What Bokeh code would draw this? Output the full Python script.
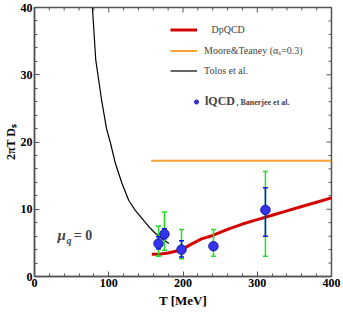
import math
from bokeh.plotting import figure
from bokeh.models import (FixedTicker, Legend, LegendItem, Label, Range1d)
from bokeh.embed import file_html
from bokeh.resources import INLINE

# ---------------- data ----------------
x_major = [0, 100, 200, 300, 400]
x_minor = [20, 40, 60, 80, 120, 140, 160, 180, 220, 240, 260, 280, 320, 340, 360, 380]
y_major = [0, 10, 20, 30, 40]
y_minor = [2, 4, 6, 8, 12, 14, 16, 18, 22, 24, 26, 28, 32, 34, 36, 38]

tolos_T = [78, 82.5, 90, 97, 102, 109, 118, 127, 136, 145, 154, 163, 172, 181]
tolos_D = [40, 32.2, 26.5, 22.0, 20.0, 16.8, 13.8, 11.3, 9.8, 8.6, 7.4, 6.4, 5.6, 4.9]

dpqcd_T = [158, 170, 180, 190, 200, 212, 225, 240, 260, 280, 300, 320, 340, 360, 380, 400]
dpqcd_D = [3.3, 3.35, 3.5, 3.75, 4.1, 4.85, 5.6, 6.1, 7.0, 7.8, 8.45, 9.1, 9.75, 10.4, 11.05, 11.7]

moore_T = [157, 400]
moore_D = [17.2, 17.2]

lqcd_T = [167, 175, 198, 241, 311]
lqcd_D = [4.9, 6.3, 4.0, 4.5, 9.9]
green_lo = [3.0, 3.9, 2.65, 3.0, 3.0]
green_hi = [7.5, 9.6, 7.0, 7.0, 15.6]
blue_lo = [4.1, 5.6, 2.9, 4.2, 6.0]
blue_hi = [5.9, 7.1, 5.3, 4.8, 13.2]

SERIF = "Liberation Serif"
AX = "#555555"
X_MAX = x_major[-1]
Y_MAX = y_major[-1]

p = figure(width=343, height=314, output_backend="svg", toolbar_location=None,
           x_range=Range1d(x_major[0], X_MAX), y_range=Range1d(y_major[0], Y_MAX),
           min_border_left=0, min_border_right=12, min_border_top=7, min_border_bottom=38,
           background_fill_color="white", border_fill_color="white")
p.outline_line_color = AX
p.outline_line_width = 1.5
p.xgrid.visible = False
p.ygrid.visible = False

for ax in (p.xaxis[0], p.yaxis[0]):
    ax.axis_line_color = AX
    ax.axis_line_width = 1.5
    ax.major_tick_line_color = AX
    ax.minor_tick_line_color = AX
    ax.major_tick_in = 5
    ax.major_tick_out = 0
    ax.minor_tick_in = 3
    ax.minor_tick_out = 0
    ax.major_label_text_font = SERIF
    ax.major_label_text_font_style = "bold"
    ax.major_label_text_font_size = "12px"
    ax.major_label_text_color = "black"
    ax.major_label_standoff = 2
    ax.axis_label_text_font = SERIF
    ax.axis_label_text_font_style = "bold"
    ax.axis_label_text_color = "black"
    ax.axis_label_standoff = 0

p.xaxis.ticker = FixedTicker(ticks=x_major, minor_ticks=x_minor)
p.yaxis.ticker = FixedTicker(ticks=y_major, minor_ticks=y_minor)
p.xaxis.axis_label = "T [MeV]"
p.xaxis.axis_label_text_font_size = "13px"
p.xaxis.axis_label_standoff = 3
p.yaxis.axis_label = "2πT Dₛ"
p.yaxis.axis_label_text_font_size = "12px"

# inward ticks on the right and top frame edges (half of each dash is clipped by the frame)
p.scatter([X_MAX] * len(y_major), y_major, marker="dash", size=10, line_color=AX, line_width=1)
p.scatter([X_MAX] * len(y_minor), y_minor, marker="dash", size=6, line_color=AX, line_width=1)
p.scatter(x_major, [Y_MAX] * len(x_major), marker="dash", angle=math.pi / 2, size=10,
          line_color=AX, line_width=1)
p.scatter(x_minor, [Y_MAX] * len(x_minor), marker="dash", angle=math.pi / 2, size=6,
          line_color=AX, line_width=1)

# ---------------- curves ----------------
r_dp = p.line(dpqcd_T, dpqcd_D, line_color="#d40000", line_width=3)
r_mt = p.line(moore_T, moore_D, line_color="#f7a437", line_width=2)
r_to = p.line(tolos_T, tolos_D, line_color="black", line_width=1.2)

# ---------------- lattice points ----------------
p.segment(lqcd_T, green_lo, lqcd_T, green_hi, line_color="#22e022", line_width=1.5)
p.scatter(lqcd_T, green_lo, marker="dash", size=5, line_color="#22e022", line_width=1.5)
p.scatter(lqcd_T, green_hi, marker="dash", size=5, line_color="#22e022", line_width=1.5)
p.segment(lqcd_T, blue_lo, lqcd_T, blue_hi, line_color="#0a14f0", line_width=1.5)
p.scatter(lqcd_T, blue_lo, marker="dash", size=5, line_color="#0a14f0", line_width=1.5)
p.scatter(lqcd_T, blue_hi, marker="dash", size=5, line_color="#0a14f0", line_width=1.5)
r_lq = p.scatter(lqcd_T, lqcd_D, marker="circle", size=9.5, fill_color="#3434ec",
                 line_color="#1c1ca8", line_width=1)

# ---------------- legends ----------------
leg1 = Legend(items=[LegendItem(label="   DpQCD", renderers=[r_dp]),
                     LegendItem(label="Moore&Teaney (αₛ=0.3)", renderers=[r_mt]),
                     LegendItem(label="Tolos et al.", renderers=[r_to])],
              location=(136, 199), orientation="vertical",
              glyph_width=27, glyph_height=13, label_height=13, spacing=7,
              label_standoff=7, padding=0, margin=0,
              border_line_color=None, background_fill_alpha=0,
              label_text_font=SERIF, label_text_font_size="10px")
p.add_layout(leg1)

leg2 = Legend(items=[LegendItem(label="lQCD", renderers=[r_lq])],
              location=(157, 167), orientation="vertical",
              glyph_width=10, glyph_height=13, label_height=13, spacing=0,
              label_standoff=4, padding=0, margin=0,
              border_line_color=None, background_fill_alpha=0,
              label_text_font=SERIF, label_text_font_size="12px",
              label_text_font_style="bold")
p.add_layout(leg2)

p.add_layout(Label(x=272, y=25.9, text=", Banerjee et al.", text_font=SERIF,
                   text_font_size="8px", text_font_style="bold",
                   text_baseline="middle", text_align="left"))

# mu_q = 0
p.add_layout(Label(x=31, y=6.1, text="μ", text_font=SERIF, text_font_size="15px",
                   text_font_style="bold italic", text_baseline="middle"))
p.add_layout(Label(x=43, y=5.3, text="q", text_font=SERIF, text_font_size="10px",
                   text_font_style="bold italic", text_baseline="middle"))
p.add_layout(Label(x=53, y=6.1, text="= 0", text_font=SERIF, text_font_size="14px",
                   text_font_style="bold", text_baseline="middle"))

open("out.html", "w").write(file_html(p, INLINE))
